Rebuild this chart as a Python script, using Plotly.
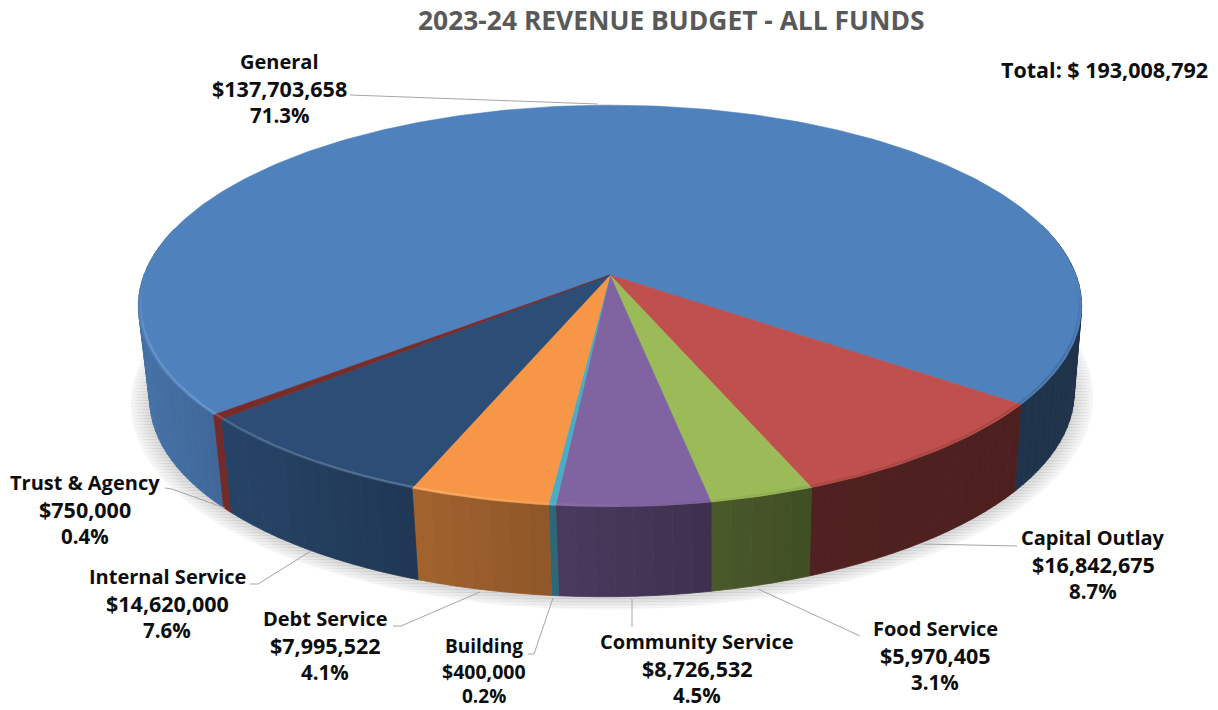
import numpy as np
import plotly.graph_objects as go

categories = ["General", "Capital Outlay", "Food Service", "Community Service",
              "Building", "Debt Service", "Internal Service", "Trust & Agency"]
values = [137703658, 16842675, 5970405, 8726532, 400000, 7995522, 14620000, 750000]
title_text = "2023-24 REVENUE BUDGET - ALL FUNDS"
total_text = "Total: $ 193,008,792"

# ---- styling / layout -------------------------------------------------------
top_colors = ["#4F81BD", "#C0504D", "#9BBB59", "#8064A2", "#4BACC6", "#F79646", "#2C4D75", "#772C2A"]
wall_gain = [1.0, 1.0, 1.0, 1.0, 1.05, 1.0, 1.1, 1.2]
START_DEG = 230.0
CX, CY, R, A, K = 610.0, 275.0, 466.0, 196.0, 0.154
DROP = 90.0
FONT = "Open Sans"
label_pos = {  # centre x, y of the three text lines
    "General": (279, (61, 88, 115)),
    "Capital Outlay": (1093, (537, 564, 591)),
    "Food Service": (935, (628, 655, 682)),
    "Community Service": (697, (641, 668, 695)),
    "Building": (484, (646, 671, 696)),
    "Debt Service": (325, (618, 645, 672)),
    "Internal Service": (167, (576, 603, 630)),
    "Trust & Agency": (85, (482, 509, 536)),
}
leaders = [
    [(350, 95), (598, 104)],
    [(165, 488), (172, 489), (225, 508)],
    [(250, 584), (258, 584), (311, 551)],
    [(393, 626), (401, 626), (480, 592)],
    [(528, 654), (534, 654), (553, 598)],
    [(632, 599), (632, 627)],
    [(758, 589), (860, 636)],
    [(923, 544), (1017, 546)],
]


def top_pt(theta, r=1.0):
    u, v = r * np.sin(theta), -r * np.cos(theta)
    w = 1 - K * v
    return CX + R * u / w, CY + A * v / w


def bottom_pt(theta, r=1.0, extra=0.0):
    x, y = top_pt(theta, r)
    return 612 + 0.98 * (x - CX), y + DROP - 0.0075 * (x - CX) + extra


def shade(hex_color, f):
    c = [int(hex_color[i:i + 2], 16) for i in (1, 3, 5)]
    c = [int(min(255, max(0, v * f))) for v in c]
    return "#%02X%02X%02X" % tuple(c)


def mix(hex_color, other, g):
    c = [int(hex_color[i:i + 2], 16) for i in (1, 3, 5)]
    c = [int(v * (1 - g) + other * g) for v in c]
    return "#%02X%02X%02X" % tuple(c)


def wall_factor(x):
    return float(np.interp(x, [140, 225, 410, 550, 630, 760, 810, 900, 1060],
                           [0.88, 0.80, 0.66, 0.58, 0.54, 0.45, 0.42, 0.41, 0.40]))


fig = go.Figure()


def poly(xs, ys, color, name, line_w=1.0, pattern=None):
    xs, ys = list(xs) + [xs[0]], list(ys) + [ys[0]]
    fig.add_trace(go.Scatter(x=xs, y=ys, mode="lines", fill="toself", fillcolor=color,
                             fillpattern=pattern,
                             line=dict(color=color, width=line_w), name=name,
                             hoverinfo="skip", showlegend=False))


# shadow: hatched rings that darken towards the pie
circle = np.linspace(0, 2 * np.pi, 241)
for r, col in zip(np.linspace(1.04, 1.004, 7),
                  ["#EFEFEF", "#E6E6E6", "#DDDDDD", "#D4D4D4", "#CBCBCB", "#C2C2C2", "#B9B9B9"]):
    pts = [bottom_pt(t, r, 2.0) for t in circle]
    pat = dict(shape="-", size=3, solidity=0.5, fgcolor=col, bgcolor=mix(col, 255, 0.55))
    poly([p[0] for p in pts], [p[1] for p in pts], "rgba(0,0,0,0)", "shadow", 0, pat)

total = sum(values)
fractions = np.array(values) / total
edges = np.radians(START_DEG) + np.concatenate([[0], np.cumsum(fractions)]) * 2 * np.pi

# walls
for i, name in enumerate(categories):
    a0, a1 = edges[i], edges[i + 1]
    n = max(1, int(np.degrees(a1 - a0) / 2))
    grid = np.linspace(a0, a1, n + 1)
    for t0, t1 in zip(grid[:-1], grid[1:]):
        if np.cos((t0 + t1) / 2) > 0.25:
            continue
        ts = np.linspace(t0, t1, 3)
        tp = [top_pt(t) for t in ts]
        bt = [bottom_pt(t) for t in ts[::-1]]
        xm = top_pt((t0 + t1) / 2)[0]
        col = shade(top_colors[i], wall_factor(xm) * wall_gain[i])
        poly([p[0] for p in tp + bt], [p[1] for p in tp + bt], col, name, 0.8)

# top faces
for i, name in enumerate(categories):
    ts = np.linspace(edges[i], edges[i + 1], max(3, int(np.degrees(edges[i + 1] - edges[i]))))
    pts = [top_pt(t) for t in ts]
    xs = [CX] + [p[0] for p in pts]
    ys = [CY] + [p[1] for p in pts]
    poly(xs, ys, top_colors[i], name, 0.6)

# bevel along the front rim, fading out towards the back
for i, name in enumerate(categories):
    a0, a1 = edges[i], edges[i + 1]
    n = max(1, int(np.degrees(a1 - a0) / 3))
    grid = np.linspace(a0, a1, n + 1)
    for t0, t1 in zip(grid[:-1], grid[1:]):
        tm = (t0 + t1) / 2
        if np.cos(tm) > 0.02:
            continue
        fade = min(1.0, -np.cos(tm) / 0.35)
        ts = np.linspace(t0, t1, 3)
        pts = [top_pt(t, 0.995) for t in ts]
        xm = pts[1][0]
        if xm < 640:
            g = float(np.interp(xm, [140, 420, 640], [0.16, 0.2, 0.0])) * fade
            col = mix(top_colors[i], 255, g)
        else:
            g = float(np.interp(xm, [640, 850, 1080], [0.0, 0.1, 0.12])) * fade
            col = mix(top_colors[i], 0, g)
        fig.add_trace(go.Scatter(x=[p[0] for p in pts], y=[p[1] for p in pts], mode="lines",
                                 line=dict(color=col, width=2.0), name=name,
                                 hoverinfo="skip", showlegend=False))

shapes = []
for path in leaders:
    for (x0, y0), (x1, y1) in zip(path[:-1], path[1:]):
        shapes.append(dict(type="line", x0=x0, y0=y0, x1=x1, y1=y1, xref="x", yref="y",
                           layer="above", line=dict(color="#A6A6A6", width=1)))

annotations = []


def text(x, y, s, size, color="#0D0D0D", anchor="center"):
    annotations.append(dict(x=x, y=y, text="<b>%s</b>" % s, xref="x", yref="y", showarrow=False,
                            xanchor=anchor, yanchor="middle",
                            font=dict(family=FONT, size=size, color=color)))


for name, val, frac in zip(categories, values, fractions):
    cx, ys = label_pos[name]
    small = name == "Building"
    text(cx, ys[0], name.replace("&", "&amp;"), 19 if small else 20)
    text(cx, ys[1], "${:,}".format(val), 19.5 if small else 21.5)
    text(cx, ys[2], "{:.1f}%".format(frac * 100), 19 if small else 20.5)

text(671, 20, title_text, 26.4, color="#595959")
text(1104, 69, total_text, 21.5)

fig.update_layout(
    width=1218, height=710, margin=dict(l=0, r=0, t=0, b=0),
    paper_bgcolor="white", plot_bgcolor="white", showlegend=False,
    xaxis=dict(range=[0, 1218], visible=False, fixedrange=True),
    yaxis=dict(range=[710, 0], visible=False, fixedrange=True),
    shapes=shapes, annotations=annotations,
)
fig.write_html("out.html", config={"displayModeBar": False},
               post_script="document.body.style.margin='0';document.body.style.overflow='hidden';")
